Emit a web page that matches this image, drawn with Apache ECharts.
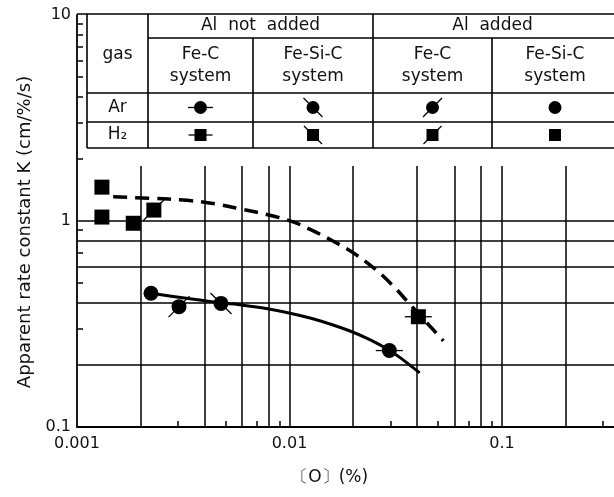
<!DOCTYPE html>
<html>
<head>
<meta charset="utf-8">
<script src="https://cdn.jsdelivr.net/npm/echarts@6/dist/echarts.min.js"></script>
<style>
html, body { margin: 0; padding: 0; background: #fff; }
#main { width: 614px; height: 497px; }
</style>
</head>
<body>
<div id="main"></div>
<script>
// [O] (%) , K (cm/%/s)
// H2 (squares)
var h2FeCNoAl = [[0.0404, 0.343]];
var h2FeCAl = [[0.0023, 1.13]];
var h2FeSiCAl = [[0.00131, 1.46], [0.00131, 1.045], [0.00184, 0.975]];
// Ar (circles)
var arFeCNoAl = [[0.0295, 0.235]];
var arFeSiCNoAl = [[0.00476, 0.398]];
var arFeCAl = [[0.00302, 0.384]];
var arFeSiCAl = [[0.00223, 0.446]];

// hand drawn curves
var h2Curve = [[0.00148, 1.31], [0.0022, 1.29], [0.0033, 1.26], [0.0045, 1.21], [0.006, 1.14],
  [0.008, 1.07], [0.0104, 0.99], [0.0128, 0.9], [0.016, 0.8], [0.02, 0.7], [0.0255, 0.58],
  [0.031, 0.48], [0.036, 0.405], [0.0404, 0.355], [0.047, 0.3], [0.053, 0.262]];
var arCurve = [[0.00223, 0.446], [0.0032, 0.423], [0.0044, 0.405], [0.0055, 0.395], [0.008, 0.374],
  [0.0112, 0.348], [0.014, 0.327], [0.019, 0.294], [0.024, 0.265], [0.0295, 0.236], [0.034, 0.213],
  [0.041, 0.183]];

// grid and ticks
var xGridVals = [0.002, 0.004, 0.006, 0.008, 0.01, 0.02, 0.04, 0.06, 0.08, 0.1, 0.2, 0.4];
var yGridVals = [0.2, 0.4, 0.6, 0.8, 1];
var xMinorTicks = [0.003, 0.005, 0.007, 0.009, 0.03, 0.05, 0.07, 0.09, 0.3];
var yMinorTicks = [0.3, 0.5, 0.7, 0.9, 2, 3, 4, 5, 6, 7, 8, 9];

// table text
var tableHead = ['gas', 'Al  not  added', 'Al  added'];
var tableCols = ['Fe-C\nsystem', 'Fe-Si-C\nsystem', 'Fe-C\nsystem', 'Fe-Si-C\nsystem'];
var tableRows = ['Ar', 'H₂'];
var markKinds = ['h', 'back', 'fwd', 'plain'];

var FONT = 'DejaVu Sans';
var INK = '#111';
var GRID_TOP_PX = 166; // vertical grid lines stop under the table

function markChildren(cx, cy, shape, kind, s) {
  var r = s / 2, kids = [];
  if (shape === 'circle') {
    kids.push({ type: 'circle', shape: { cx: cx, cy: cy, r: r }, style: { fill: '#000' } });
  } else {
    kids.push({ type: 'rect', shape: { x: cx - r, y: cy - r, width: s, height: s }, style: { fill: '#000' } });
  }
  var ln = { stroke: '#000', lineWidth: 1.3 };
  var d = r + 3;
  if (kind === 'h') kids.push({ type: 'line', shape: { x1: cx - r - 6, y1: cy, x2: cx + r + 6, y2: cy }, style: ln });
  if (kind === 'back') kids.push({ type: 'line', shape: { x1: cx - d, y1: cy - d, x2: cx + d, y2: cy + d }, style: ln });
  if (kind === 'fwd') kids.push({ type: 'line', shape: { x1: cx - d, y1: cy + d, x2: cx + d, y2: cy - d }, style: ln });
  return kids;
}

function marks(name, data, shape, kind) {
  return {
    type: 'custom', name: name, data: data, z: 6, silent: true,
    renderItem: function (params, api) {
      var p = api.coord([api.value(0), api.value(1)]);
      return { type: 'group', children: markChildren(p[0], p[1], shape, kind, 15) };
    }
  };
}

function gridSeries(data, draw) {
  return {
    type: 'custom', data: data, z: 1, silent: true,
    renderItem: function (params, api) {
      var p = api.coord([api.value(0), api.value(1)]);
      p = [Math.round(p[0]), Math.round(p[1])];
      var cs = params.coordSys;
      return { type: 'line', shape: draw(p, cs), style: { stroke: '#000', lineWidth: 1.5 } };
    }
  };
}

var myChart = echarts.init(document.getElementById('main'));

// table drawing
var TL = 87, TT = 14, TR = 660, C = [148, 253, 373, 492], R = [38, 93, 122, 148];
var tb = [];
var lineStyle = { stroke: '#000', lineWidth: 1.6 };
function hl(x1, x2, y) { tb.push({ type: 'line', shape: { x1: x1, y1: y, x2: x2, y2: y }, style: lineStyle }); }
function vl(x, y1, y2) { tb.push({ type: 'line', shape: { x1: x, y1: y1, x2: x, y2: y2 }, style: lineStyle }); }
tb.push({ type: 'rect', shape: { x: TL, y: TT, width: TR - TL, height: R[3] - TT }, style: { fill: '#fff' } });
hl(77, TR, TT); hl(C[0], TR, R[0]); hl(TL, TR, R[1]); hl(TL, TR, R[2]); hl(TL, TR, R[3]);
vl(TL, TT, R[3]); vl(C[0], TT, R[3]); vl(C[1], R[0], R[3]); vl(C[2], TT, R[3]); vl(C[3], R[0], R[3]);
function txt(x, y, s) {
  tb.push({ type: 'text', x: x, y: y, style: { text: s, font: '17px "' + FONT + '"', fill: INK,
    align: 'center', verticalAlign: 'middle', lineHeight: 22 } });
}
txt((TL + C[0]) / 2, 55, tableHead[0]);
txt((C[0] + C[2]) / 2, 26, tableHead[1]);
txt((C[2] + 612) / 2, 26, tableHead[2]);
var colX = [(C[0] + C[1]) / 2, (C[1] + C[2]) / 2, (C[2] + C[3]) / 2, (C[3] + 618) / 2];
tableCols.forEach(function (s, i) { txt(colX[i], 66, s); });
txt((TL + C[0]) / 2, 108, tableRows[0]);
txt((TL + C[0]) / 2, 135, tableRows[1]);
markKinds.forEach(function (k, i) {
  tb.push({ type: 'group', children: markChildren(colX[i], 107.5, 'circle', k, 13) });
  tb.push({ type: 'group', children: markChildren(colX[i], 135, 'rect', k, 12) });
});

function raise(e) {
  e.z = 100;
  if (e.children) e.children.forEach(raise);
  return e;
}

var option = {
  backgroundColor: '#fff',
  animation: false,
  grid: { left: 77, top: 15, width: 637.5, height: 412, containLabel: false, outerBoundsMode: 'none' },
  xAxis: {
    type: 'log', logBase: 10, min: 0.001, max: 1,
    name: '〔O〕(%)', nameLocation: 'middle', nameGap: 42,
    nameTextStyle: { fontFamily: FONT, fontSize: 17, color: INK, padding: [0, 132, 0, 0] },
    axisLine: { lineStyle: { color: '#000', width: 1.8 } },
    axisTick: { show: false },
    splitLine: { show: false },
    axisLabel: { fontFamily: FONT, fontSize: 16, color: INK, margin: 9,
      formatter: function (v) { return String(Number(v.toPrecision(6))); } }
  },
  yAxis: {
    type: 'log', logBase: 10, min: 0.1, max: 10,
    name: 'Apparent rate constant K (cm/%/s)', nameLocation: 'middle', nameGap: 36, nameRotate: 90,
    nameTextStyle: { fontFamily: FONT, fontSize: 18, color: INK, padding: [0, 22, 0, 0] },
    axisLine: { lineStyle: { color: '#000', width: 1.8 } },
    axisTick: { show: false },
    splitLine: { show: false },
    axisLabel: { fontFamily: FONT, fontSize: 16, color: INK, margin: 6,
      formatter: function (v) { return String(Number(v.toPrecision(6))); } }
  },
  graphic: { elements: tb.map(raise) },
  series: [
    gridSeries(xGridVals.map(function (v) { return [v, 0.1]; }), function (p, cs) {
      return { x1: p[0], y1: cs.y + cs.height, x2: p[0], y2: GRID_TOP_PX };
    }),
    gridSeries(yGridVals.map(function (v) { return [0.001, v]; }), function (p, cs) {
      return { x1: cs.x, y1: p[1], x2: cs.x + cs.width, y2: p[1] };
    }),
    gridSeries(xMinorTicks.map(function (v) { return [v, 0.1]; }), function (p, cs) {
      return { x1: p[0], y1: cs.y + cs.height, x2: p[0], y2: cs.y + cs.height - 6 };
    }),
    gridSeries(yMinorTicks.map(function (v) { return [0.001, v]; }), function (p, cs) {
      return { x1: cs.x, y1: p[1], x2: cs.x + 6, y2: p[1] };
    }),
    {
      type: 'line', name: 'H2', data: h2Curve, smooth: 0.35, showSymbol: false, silent: true, z: 4,
      lineStyle: { color: '#000', width: 3.5, type: [14, 8] }
    },
    {
      type: 'line', name: 'Ar', data: arCurve, smooth: 0.35, showSymbol: false, silent: true, z: 4,
      lineStyle: { color: '#000', width: 3 }
    },
    marks('H2 Fe-C, Al not added', h2FeCNoAl, 'rect', 'h'),
    marks('H2 Fe-C, Al added', h2FeCAl, 'rect', 'fwd'),
    marks('H2 Fe-Si-C, Al added', h2FeSiCAl, 'rect', 'plain'),
    marks('Ar Fe-C, Al not added', arFeCNoAl, 'circle', 'h'),
    marks('Ar Fe-Si-C, Al not added', arFeSiCNoAl, 'circle', 'back'),
    marks('Ar Fe-C, Al added', arFeCAl, 'circle', 'fwd'),
    marks('Ar Fe-Si-C, Al added', arFeSiCAl, 'circle', 'plain')
  ]
};

myChart.setOption(option);
</script>
</body>
</html>
